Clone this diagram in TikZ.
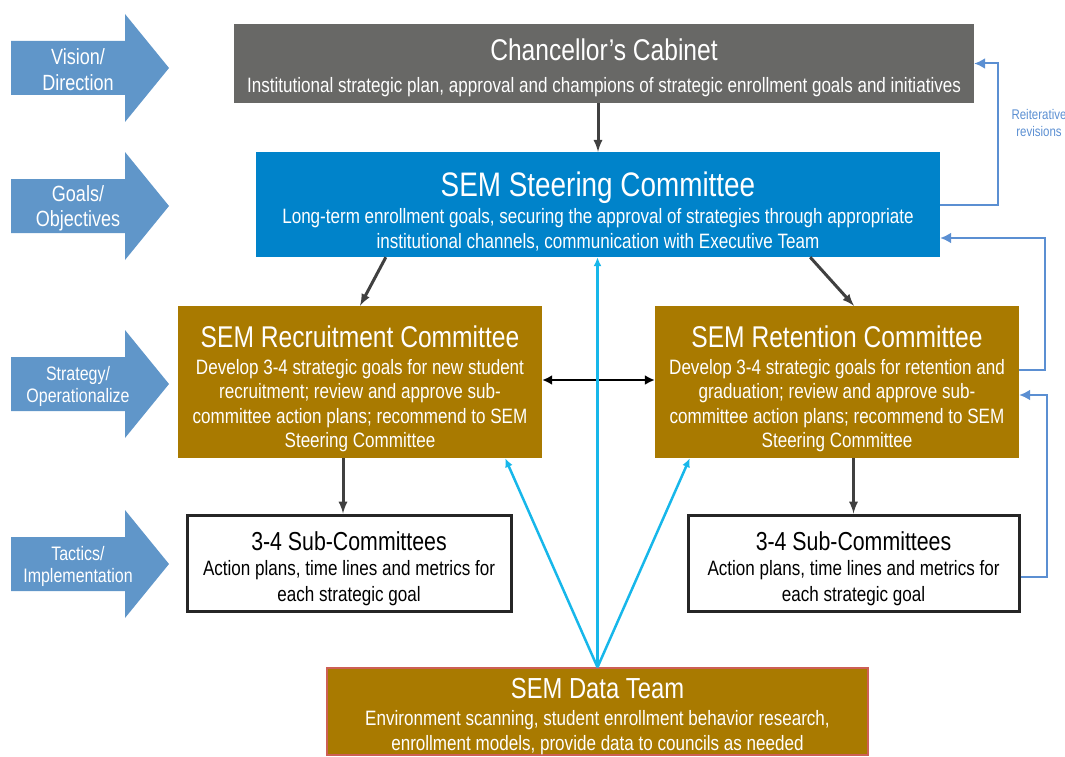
\documentclass[tikz,border=0pt]{standalone}
\usepackage{fontspec}
\setmainfont[FakeStretch=0.82]{Liberation Sans}
\usepackage{xcolor}
\usepackage{tikz}
\usetikzlibrary{arrows, arrows.meta, positioning, calc}
\definecolor{cabgray}{RGB}{104,104,102}
\definecolor{steerblue}{RGB}{0,131,202}
\definecolor{gold}{RGB}{169,122,0}
\definecolor{lvlblue}{RGB}{96,150,201}
\definecolor{fbblue}{RGB}{91,143,210}
\definecolor{datacyan}{RGB}{23,183,234}
\definecolor{darkline}{RGB}{64,64,64}
\definecolor{datared}{RGB}{205,95,85}
\newcommand{\tpad}[1]{\rule{0pt}{#1}}
\tikzset{%
	box/.style={rectangle, inner sep=0mm, align=center, text=white,%
		font=\fontsize{20.8}{24.5}\selectfont},
	cab/.style={box, fill=cabgray, minimum width=740pt, minimum height=79pt},
	steer/.style={box, fill=steerblue, minimum width=684pt, minimum height=105pt},
	comm/.style={box, fill=gold, minimum width=364pt, minimum height=152pt},
	sub/.style={box, draw=black!85, line width=3pt, text=black, minimum height=96pt},
	dteam/.style={box, fill=gold, draw=datared, line width=1.5pt,%
		minimum width=541pt, minimum height=87pt},
	lvl/.style={fill=lvlblue},
	lvltext/.style={text=white, align=center},
	link/.style={-latex, line width=3pt, color=darkline},
	both/.style={{Latex[length=10pt,width=10pt]}-{Latex[length=10pt,width=10pt]}, line width=2.2pt, black},
	feed/.style={-{Latex[length=9pt,width=8pt]}, line width=2.5pt, color=datacyan},
	fb/.style={-{Latex[length=11pt,width=11pt]}, line width=2pt, color=fbblue}
}

\begin{document}
\begin{tikzpicture}[x=1pt, y=-1pt]
	\useasboundingbox (0,0) rectangle (1065,757);

	\foreach \y/\fs/\ls/\lbl [count=\i] in {68/22/26/{Vision/\\Direction},%
		206/22/25/{Goals/\\Objectives}, 384/19.5/22/{Strategy/\\Operationalize},%
		564/19.5/22/{Tactics/\\Implementation}}{
		\fill[lvl] (11,\y-27) -- (125,\y-27) -- (125,\y-54) -- (169,\y)
			-- (125,\y+54) -- (125,\y+27) -- (11,\y+27) -- cycle;
		\node[lvltext, font=\fontsize{\fs}{\ls}\selectfont] (lvl\i) at (78,\y+2) {\lbl};
	}

	\node[cab] (cab) at (604,63.5) {{\fontsize{30}{30}\selectfont\tpad{30pt}Chancellor’s Cabinet}\\[8pt]
		Institutional strategic plan, approval and champions of strategic enrollment goals and initiatives};
	\node[steer] (steer) at (598,204.5) {{\fontsize{34}{34}\selectfont\tpad{38pt}SEM Steering Committee}\\[3pt]
		Long-term enrollment goals, securing the approval of strategies through appropriate\\
		institutional channels, communication with Executive Team};
	\node[comm] (recr) at (360,382) {{\fontsize{30}{30}\selectfont\tpad{36pt}SEM Recruitment Committee}\\[2pt]
		Develop 3-4 strategic goals for new student\\ recruitment; review and approve sub-\\
		committee action plans; recommend to SEM\\ Steering Committee};
	\node[comm] (ret) at (837,382) {{\fontsize{30}{30}\selectfont\tpad{36pt}SEM Retention Committee}\\[2pt]
		Develop 3-4 strategic goals for retention and\\ graduation; review and approve sub-\\
		committee action plans; recommend to SEM\\ Steering Committee};
	\node[sub, minimum width=324pt] (subL) at (349,563) {{\fontsize{26}{26}\selectfont\tpad{30pt}3-4 Sub-Committees}\\[1pt]
		Action plans, time lines and metrics for\\[1.5pt] each strategic goal};
	\node[sub, minimum width=331pt] (subR) at (853.5,563) {{\fontsize{26}{26}\selectfont\tpad{30pt}3-4 Sub-Committees}\\[1pt]
		Action plans, time lines and metrics for\\[1.5pt] each strategic goal};
	\node[dteam] (data) at (597.5,711.5) {{\fontsize{29}{29}\selectfont\tpad{30pt}SEM Data Team}\\[3pt]
		Environment scanning, student enrollment behavior research,\\
		enrollment models, provide data to councils as needed};
	\node[text=fbblue, align=center, font=\fontsize{14}{17}\selectfont] (rev) at (1039,123)
		{Reiterative\\ revisions};

	\coordinate (sl) at ($(subL.north)+(-6,0)$);
	\draw[link] (steer.north |- cab.south) -- (steer.north);
	\draw[link] ($(steer.south west)!0.19!(steer.south east)$) -- (recr.north);
	\draw[link] ($(steer.south west)!0.81!(steer.south east)$) -- ($(ret.north)+(17,0)$);
	\draw[both] ([yshift=2pt]recr.east) -- ([yshift=2pt]ret.west);
	\draw[link] (recr.south -| sl) -- (sl);
	\draw[link] (ret.south -| subR.north) -- (subR.north);

	\draw[feed] (data.north) -- (data.north |- steer.south);
	\draw[feed] (data.north) -- ($(recr.south east)+(-37,0)$);
	\draw[feed] (data.north) -- ($(ret.south west)+(35,0)$);

	\draw[fb] (steer.east) -- ++(58,0) |- (cab.east);
	\draw[fb] ([yshift=12pt]ret.east) -- ++(26,0) |- ([yshift=-33.5pt]steer.east);
	\draw[fb] ([yshift=-14pt]subR.east) -- ++(26,0) |- ([yshift=-13pt]ret.east);
\end{tikzpicture}
\end{document}
